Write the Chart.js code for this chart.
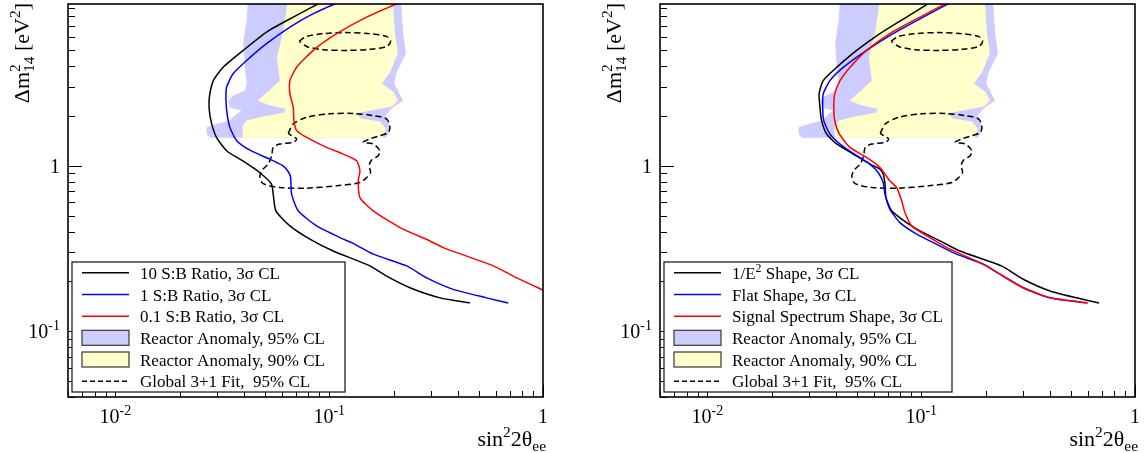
<!DOCTYPE html>
<html>
<head>
<meta charset="utf-8">
<script src="https://cdn.jsdelivr.net/npm/chart.js@4.4.1/dist/chart.umd.min.js"></script>
<style>
  html, body { margin: 0; padding: 0; background: #fff; }
  #wrap { position: relative; width: 1146px; height: 453px; }
  canvas { position: absolute; top: 0; }
</style>
</head>
<body>
<div id="wrap">
  <canvas id="left" width="573" height="453" style="left:0"></canvas>
  <canvas id="right" width="573" height="453" style="left:573px"></canvas>
</div>
<script>
// [sin^2 2theta_ee, dm^2_14] pairs

// left panel: S:B ratio curves
const ratio10 = [[0.0955,10],[0.0679,7.92],[0.0509,6.43],[0.0396,4.98],[0.0319,3.94],[0.0287,3.27],[0.0275,2.59],[0.0275,2.15],[0.0282,1.79],[0.0297,1.484],[0.0331,1.233],[0.0403,1.05],[0.0474,0.907],[0.0537,0.775],[0.0547,0.674],[0.0563,0.534],[0.0655,0.433],[0.0812,0.360],[0.1044,0.305],[0.155,0.248],[0.1856,0.215],[0.2385,0.183],[0.330,0.159],[0.455,0.148]];
const ratio1 = [[0.116,10],[0.0842,8.31],[0.0655,6.89],[0.0509,5.47],[0.0411,4.33],[0.0355,3.60],[0.0331,2.98],[0.0329,2.48],[0.0333,2.06],[0.0343,1.707],[0.0369,1.418],[0.043,1.233],[0.0516,1.11],[0.0607,1.0],[0.0648,0.907],[0.066,0.846],[0.0667,0.674],[0.0716,0.534],[0.0873,0.433],[0.1163,0.360],[0.1273,0.343],[0.1606,0.292],[0.2303,0.248],[0.2857,0.210],[0.3804,0.179],[0.545,0.159],[0.688,0.148]];
const ratio01 = [[0.226,10],[0.1496,7.92],[0.1083,6.28],[0.0842,4.98],[0.0704,3.94],[0.0655,3.27],[0.0655,2.72],[0.0679,2.26],[0.0684,1.874],[0.0704,1.63],[0.0784,1.484],[0.0972,1.291],[0.1122,1.199],[0.1343,1.072],[0.1392,0.933],[0.1367,0.811],[0.1392,0.642],[0.1606,0.534],[0.2142,0.423],[0.296,0.351],[0.3416,0.320],[0.5855,0.248],[0.7534,0.210],[1.02,0.175]];

// right panel: spectrum shape curves
const shapeE2 = [[0.1146,10],[0.0854,7.92],[0.0641,6.29],[0.0499,4.98],[0.0402,3.93],[0.0348,3.27],[0.0333,2.72],[0.0336,2.26],[0.0342,1.874],[0.0361,1.556],[0.0402,1.354],[0.0481,1.177],[0.0575,1.024],[0.0641,0.955],[0.0664,0.891],[0.0677,0.775],[0.0684,0.643],[0.0727,0.534],[0.0854,0.453],[0.0987,0.404],[0.1268,0.343],[0.1517,0.305],[0.195,0.272],[0.2377,0.248],[0.3001,0.206],[0.4001,0.175],[0.5336,0.159],[0.6785,0.148]];
const shapeFlat = [[0.1438,10],[0.1022,7.92],[0.0739,6.29],[0.0555,4.98],[0.0432,3.93],[0.0374,3.27],[0.0348,2.72],[0.0346,2.26],[0.035,1.874],[0.0374,1.556],[0.0417,1.354],[0.0499,1.15],[0.0575,1.024],[0.0629,0.911],[0.0664,0.792],[0.0677,0.674],[0.0713,0.547],[0.0795,0.453],[0.0952,0.386],[0.118,0.335],[0.1464,0.292],[0.195,0.254],[0.2334,0.221],[0.3001,0.183],[0.4001,0.159],[0.590,0.148]];
const shapeSignal = [[0.1392,10],[0.0987,7.92],[0.0713,6.29],[0.0555,4.98],[0.0464,3.93],[0.0417,3.27],[0.0394,2.72],[0.039,2.26],[0.0394,1.874],[0.0414,1.556],[0.0464,1.291],[0.0555,1.123],[0.0641,0.977],[0.0713,0.811],[0.0767,0.739],[0.081,0.614],[0.0839,0.521],[0.0902,0.433],[0.1098,0.368],[0.1362,0.313],[0.195,0.254],[0.2334,0.221],[0.3001,0.183],[0.4001,0.159],[0.603,0.148]];

// reactor anomaly allowed regions (closed outlines)
const reactor95 = [[0.0417,10],[0.0411,7.56],[0.0396,5.49],[0.0403,3.92],[0.0411,3.14],[0.0403,2.85],[0.0355,2.65],[0.0337,2.48],[0.0343,2.25],[0.0389,2.15],[0.0362,2.01],[0.0343,1.874],[0.0297,1.79],[0.0267,1.706],[0.0267,1.557],[0.02765,1.478],[0.1821,1.478],[0.1867,1.52],[0.194,1.675],[0.1832,2.01],[0.1977,2.25],[0.2219,2.48],[0.2177,2.58],[0.2016,3.14],[0.2056,3.61],[0.2285,4.78],[0.2219,6.32],[0.2166,10]];
const reactor90 = [[0.0641,10],[0.0607,6.32],[0.0569,4.51],[0.0588,3.27],[0.0511,2.77],[0.0464,2.48],[0.0517,2.34],[0.062,2.215],[0.062,2.095],[0.0484,1.98],[0.0412,1.874],[0.0394,1.747],[0.0394,1.478],[0.1783,1.478],[0.1841,1.675],[0.1726,1.848],[0.1422,1.927],[0.1319,2.066],[0.155,2.15],[0.1965,2.28],[0.2096,2.48],[0.2007,2.77],[0.1764,3.14],[0.1923,3.66],[0.2096,4.78],[0.2029,6.32],[0.1986,10]];

// global 3+1 fit, 95% CL (two islands)
const fitUpper = [[0.0723,5.66],[0.0784,6.05],[0.0938,6.29],[0.1207,6.38],[0.155,6.29],[0.1855,6.05],[0.1938,5.66],[0.1855,5.26],[0.155,5.05],[0.1207,4.98],[0.0938,5.03],[0.0784,5.26],[0.0723,5.66]];
const fitLower = [[0.0643,1.57],[0.0679,1.79],[0.0784,1.96],[0.1008,2.06],[0.1295,2.07],[0.1606,2.01],[0.1855,1.92],[0.1923,1.71],[0.1888,1.59],[0.1726,1.52],[0.155,1.452],[0.1442,1.384],[0.1606,1.354],[0.1726,1.233],[0.1695,1.15],[0.1579,1.083],[0.1538,1.0],[0.1561,0.911],[0.1496,0.849],[0.1392,0.792],[0.1083,0.757],[0.0784,0.732],[0.0588,0.739],[0.0491,0.78],[0.0474,0.849],[0.0483,0.933],[0.0518,1.024],[0.0538,1.15],[0.0547,1.291],[0.0588,1.354],[0.0679,1.384],[0.0704,1.452],[0.0667,1.52],[0.0643,1.57]];

const leftLabels = ['10 S:B Ratio, 3σ CL', '1 S:B Ratio, 3σ CL', '0.1 S:B Ratio, 3σ CL'];
const rightLabels = [[{t:'1/E'},{sup:'2'},{t:' Shape, 3σ CL'}], 'Flat Shape, 3σ CL', 'Signal Spectrum Shape, 3σ CL'];
const commonLabels = ['Reactor Anomaly, 95% CL', 'Reactor Anomaly, 90% CL', 'Global 3+1 Fit,  95% CL'];

const xMajor = [0.01, 0.1, 1];
const xMajorText = [['10','-2'], ['10','-1'], ['1','']];
const yMajor = [0.1, 1];
const yMajorText = [['10','-1'], ['1','']];

const serif = '"Liberation Serif", "Times New Roman", serif';
const lineColors = ['#000000', '#0000ff', '#ff0000'];
const fill95 = '#ccccff', fill90 = '#ffffcc';

const pts = a => a.map(([x, y]) => ({ x, y }));
const legends = {}; // legend layout per canvas id

// text with superscripts / subscripts
function drawRich(ctx, parts, x, y, size, align) {
    let w = 0;
    for (const p of parts) {
        if (p.t !== undefined) {
            ctx.font = size + 'px ' + serif;
            p._w = ctx.measureText(p.t).width;
        } else {
            ctx.font = (size * 0.7) + 'px ' + serif;
            p._w = Math.max(p.sup ? ctx.measureText(p.sup).width : 0, p.sub ? ctx.measureText(p.sub).width : 0);
        }
        w += p._w;
    }
    let cx = align === 'right' ? x - w : align === 'center' ? x - w / 2 : x;
    ctx.textAlign = 'left';
    ctx.textBaseline = 'alphabetic';
    for (const p of parts) {
        if (p.t !== undefined) {
            ctx.font = size + 'px ' + serif;
            ctx.fillText(p.t, cx, y);
        } else {
            ctx.font = (size * 0.7) + 'px ' + serif;
            if (p.sup) ctx.fillText(p.sup, cx, y - size * 0.42);
            if (p.sub) ctx.fillText(p.sub, cx, y + size * 0.22);
        }
        cx += p._w;
    }
}

function decadeTicks(min, max) {
    const out = [];
    for (let d = 0.001; d <= 1; d *= 10) {
        for (let k = 1; k <= 9; k++) {
            const v = +(k * d).toPrecision(3);
            if (v >= min && v <= max) out.push({ v, major: k === 1 });
        }
    }
    return out;
}

// frame, inward ticks, labels, titles and legend in ROOT style
const rootFrame = {
    id: 'rootFrame',
    afterDraw(chart) {
        const ctx = chart.ctx;
        const a = chart.chartArea;
        const xs = chart.scales.x, ys = chart.scales.y;
        ctx.save();
        ctx.strokeStyle = '#000';
        ctx.fillStyle = '#000';
        ctx.lineWidth = 1;

        decadeTicks(xs.min, xs.max).forEach(t => {
            const px = Math.round(xs.getPixelForValue(t.v)) + 0.5;
            ctx.beginPath();
            ctx.moveTo(px, a.bottom);
            ctx.lineTo(px, a.bottom - (t.major ? 12 : 6));
            ctx.stroke();
        });
        decadeTicks(ys.min, ys.max).forEach(t => {
            const py = Math.round(ys.getPixelForValue(t.v)) + 0.5;
            ctx.beginPath();
            ctx.moveTo(a.left, py);
            ctx.lineTo(a.left + (t.major ? 14 : 7), py);
            ctx.stroke();
        });

        // legend box
        const lg = legends[chart.canvas.id];
        const rowH = lg.h / lg.rows.length;
        ctx.fillStyle = '#fff';
        ctx.fillRect(lg.x, lg.y, lg.w, lg.h);
        ctx.lineWidth = 1.3;
        ctx.strokeStyle = '#222';
        ctx.strokeRect(lg.x, lg.y, lg.w, lg.h);
        lg.rows.forEach((r, i) => {
            const cy = lg.y + rowH * (i + 0.5);
            if (r.box) {
                ctx.fillStyle = r.box;
                ctx.fillRect(lg.x + 10, cy - 7.5, 47, 15);
                ctx.strokeStyle = '#444';
                ctx.lineWidth = 1.3;
                ctx.strokeRect(lg.x + 10, cy - 7.5, 47, 15);
            } else {
                ctx.strokeStyle = r.color;
                ctx.lineWidth = 1.5;
                ctx.setLineDash(r.dash || []);
                ctx.beginPath();
                ctx.moveTo(lg.x + 10, cy);
                ctx.lineTo(lg.x + 57, cy);
                ctx.stroke();
                ctx.setLineDash([]);
            }
            ctx.fillStyle = '#000';
            const parts = typeof r.label === 'string' ? [{ t: r.label }] : r.label;
            drawRich(ctx, parts, lg.x + 68, cy + 6, 17, 'left');
        });

        // frame
        ctx.strokeStyle = '#000';
        ctx.lineWidth = 1.6;
        ctx.strokeRect(a.left, a.top, a.right - a.left, a.bottom - a.top);

        // tick labels
        ctx.fillStyle = '#000';
        xMajor.forEach((v, i) => {
            const [b, e] = xMajorText[i];
            const parts = e ? [{ t: b }, { sup: e }] : [{ t: b }];
            drawRich(ctx, parts, xs.getPixelForValue(v), a.bottom + 26, 20, 'center');
        });
        yMajor.forEach((v, i) => {
            const [b, e] = yMajorText[i];
            const parts = e ? [{ t: b }, { sup: e }] : [{ t: b }];
            drawRich(ctx, parts, a.left - 8, ys.getPixelForValue(v) + 7, 20, 'right');
        });

        // axis titles
        drawRich(ctx, [{ t: 'sin' }, { sup: '2' }, { t: '2θ' }, { sub: 'ee' }], a.right + 3, a.bottom + 49, 22, 'right');
        ctx.translate(a.left - 39, a.top - 1);
        ctx.rotate(-Math.PI / 2);
        drawRich(ctx, [{ t: 'Δm' }, { sup: '2', sub: '14' }, { t: ' [eV' }, { sup: '2' }, { t: ']' }], 0, 0, 22, 'right');
        ctx.restore();
    }
};

function makePanel(id, curves, labels, pad, legendW) {
    const datasets = curves.map((c, i) => ({
        data: pts(c), borderColor: lineColors[i], borderWidth: 1.5,
        pointRadius: 0, tension: 0.2, fill: false, order: 2 - i * 0.1
    }));
    [fitUpper, fitLower].forEach(c => datasets.push({
        data: pts(c), borderColor: '#000', borderWidth: 1.5, borderDash: [6, 3.5],
        pointRadius: 0, tension: 0.3, fill: false, order: 3
    }));
    datasets.push({ data: pts(reactor90), borderWidth: 0, backgroundColor: fill90, pointRadius: 0, fill: 'shape', order: 4 });
    datasets.push({ data: pts(reactor95), borderWidth: 0, backgroundColor: fill95, pointRadius: 0, fill: 'shape', order: 5 });

    const rows = labels.map((l, i) => ({ label: l, color: lineColors[i] }));
    rows.push({ label: commonLabels[0], box: fill95 });
    rows.push({ label: commonLabels[1], box: fill90 });
    rows.push({ label: commonLabels[2], color: '#000', dash: [5, 3] });
    legends[id] = { x: pad.left + 4, y: 262, w: legendW, h: 130, rows };

    return new Chart(document.getElementById(id), {
        type: 'line',
        data: { datasets },
        options: {
            responsive: false,
            animation: false,
            events: [],
            devicePixelRatio: 1,
            layout: { padding: pad },
            scales: {
                x: { type: 'logarithmic', min: 0.006, max: 1, display: false },
                y: { type: 'logarithmic', min: 0.04, max: 9.5, display: false }
            },
            plugins: {
                legend: { display: false },
                tooltip: { enabled: false }
            }
        },
        plugins: [rootFrame]
    });
}

makePanel('left', [ratio10, ratio1, ratio01], leftLabels, { left: 68, right: 30, top: 4, bottom: 56 }, 273);
makePanel('right', [shapeE2, shapeFlat, shapeSignal], rightLabels, { left: 87, right: 11, top: 4, bottom: 56 }, 288);
</script>
</body>
</html>
